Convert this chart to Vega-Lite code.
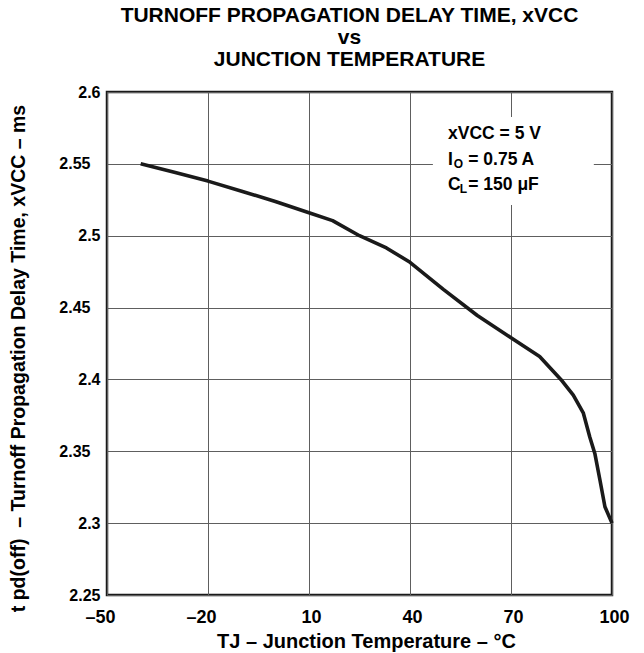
{
  "$schema": "https://vega.github.io/schema/vega-lite/v6.json",
  "width": 505,
  "height": 503,
  "autosize": {"type": "none"},
  "padding": {"left": 107, "top": 92, "right": 32, "bottom": 58},
  "background": "white",
  "title": {
    "text": ["TURNOFF PROPAGATION DELAY TIME, xVCC", "vs", "JUNCTION TEMPERATURE"],
    "font": "Liberation Sans",
    "fontWeight": "bold",
    "fontSize": 21,
    "lineHeight": 22,
    "color": "black",
    "anchor": "middle",
    "baseline": "bottom",
    "offset": 22,
    "dy": 29,
    "dx": -10
  },
  "config": {
    "view": {"stroke": "#1a1a1a", "strokeWidth": 2.5},
    "axis": {
      "labelFont": "Liberation Sans",
      "labelFontWeight": "bold",
      "labelFontSize": 16,
      "labelColor": "black",
      "labelFlush": false,
      "titleFont": "Liberation Sans",
      "titleFontWeight": "bold",
      "titleFontSize": 16,
      "titleColor": "black",
      "grid": true,
      "gridColor": "#5e5e5e",
      "gridWidth": 1,
      "gridOpacity": 1,
      "ticks": false,
      "tickSize": 0,
      "domain": false
    }
  },
  "layer": [
    {
      "data": {"values": [{"T1": 46.8, "T2": 94.6, "v1": 2.5214, "v2": 2.5826}]},
      "mark": {"type": "rect", "color": "white"},
      "encoding": {
        "x": {"field": "T1", "type": "quantitative"},
        "x2": {"field": "T2"},
        "y": {"field": "v1", "type": "quantitative"},
        "y2": {"field": "v2"}
      }
    },
    {
      "data": {
        "values": [
          {"T": -40, "v": 2.55},
          {"T": -30, "v": 2.5442},
          {"T": -20, "v": 2.538},
          {"T": -10, "v": 2.531},
          {"T": 0, "v": 2.5238},
          {"T": 10, "v": 2.516},
          {"T": 17, "v": 2.5105},
          {"T": 25, "v": 2.5},
          {"T": 33, "v": 2.4915},
          {"T": 40, "v": 2.4815},
          {"T": 50, "v": 2.4625},
          {"T": 60, "v": 2.4445},
          {"T": 70, "v": 2.429},
          {"T": 78.5, "v": 2.416},
          {"T": 84.8, "v": 2.4},
          {"T": 88.5, "v": 2.389},
          {"T": 91.5, "v": 2.3765},
          {"T": 93.4, "v": 2.36},
          {"T": 94.9, "v": 2.3485},
          {"T": 96.5, "v": 2.329},
          {"T": 97.9, "v": 2.3114},
          {"T": 100, "v": 2.3}
        ]
      },
      "mark": {"type": "line", "color": "#1a1a1a", "strokeWidth": 3.6, "strokeJoin": "round", "strokeCap": "butt"},
      "encoding": {
        "x": {
          "field": "T",
          "type": "quantitative",
          "scale": {"domain": [-50, 100], "nice": false, "zero": false},
          "axis": {
            "values": [-50, -20, 10, 40, 70, 100],
            "labelExpr": "datum.value < 0 ? '–' + abs(datum.value) : '' + datum.value",
            "labelOffset": {"condition": {"test": "datum.value < 0", "value": -7}, "value": 2},
            "labelPadding": 13,
            "labelFontSize": 18,
            "title": "TJ – Junction Temperature – °C",
            "titleFontSize": 20,
            "titleX": 259,
            "titleY": 46,
            "titleBaseline": "middle",
            "titleAnchor": null
          }
        },
        "y": {
          "field": "v",
          "type": "quantitative",
          "scale": {"domain": [2.25, 2.6], "nice": false, "zero": false},
          "axis": {
            "values": [2.25, 2.3, 2.35, 2.4, 2.45, 2.5, 2.55, 2.6],
            "format": ".3~r",
            "labelPadding": {"condition": {"test": "round(datum.value * 100) % 10 == 5 && datum.value > 2.3", "value": 17}, "value": 7},
            "title": "t pd(off)\u00a0\u00a0– Turnoff Propagation Delay Time, xVCC – ms",
            "titleFontSize": 19.5,
            "titleX": -89,
            "titleY": 266,
            "titleBaseline": "middle",
            "titleAlign": "center",
            "titleAngle": -90
          }
        }
      }
    },
    {
      "data": {
        "values": [
          {"label": "xVCC = 5 V", "T": 51.3, "v": 2.5708},
          {"label": "I", "T": 51.3, "v": 2.5527},
          {"label": "= 0.75 A", "T": 57.3, "v": 2.5527},
          {"label": "C", "T": 51.3, "v": 2.5353},
          {"label": "= 150 μF", "T": 57.3, "v": 2.5353}
        ]
      },
      "mark": {"type": "text", "align": "left", "baseline": "middle", "font": "Liberation Sans", "fontWeight": "bold", "fontSize": 17.5, "color": "black"},
      "encoding": {
        "x": {"field": "T", "type": "quantitative"},
        "y": {"field": "v", "type": "quantitative"},
        "text": {"field": "label"}
      }
    },
    {
      "data": {
        "values": [
          {"label": "O", "T": 53.0, "v": 2.5527},
          {"label": "L", "T": 54.8, "v": 2.5353}
        ]
      },
      "mark": {"type": "text", "align": "left", "baseline": "middle", "dy": 4, "font": "Liberation Sans", "fontWeight": "bold", "fontSize": 12, "color": "black"},
      "encoding": {
        "x": {"field": "T", "type": "quantitative"},
        "y": {"field": "v", "type": "quantitative"},
        "text": {"field": "label"}
      }
    }
  ]
}
